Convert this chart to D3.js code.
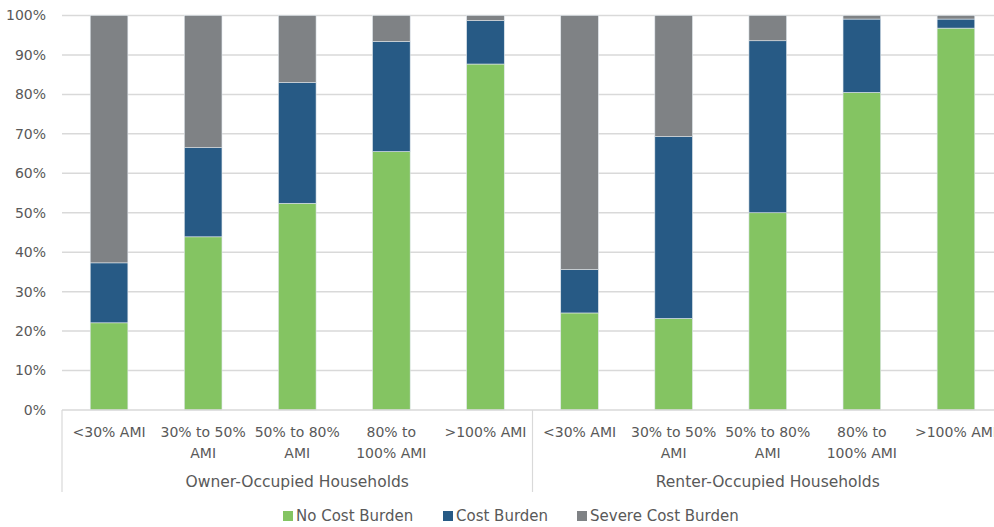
<!DOCTYPE html>
<html>
<head>
<meta charset="utf-8">
<script src="https://cdn.jsdelivr.net/npm/d3@7"></script>
<style>
  body { margin: 0; background: #fff; }
  text { font-family: "DejaVu Sans", sans-serif; fill: #595959; }
</style>
</head>
<body>
<svg id="chart" width="994" height="527"></svg>
<script>
// chart data
const groups = ["Owner-Occupied Households", "Renter-Occupied Households"];
const categories = ["<30% AMI", "30% to 50%\nAMI", "50% to 80%\nAMI", "80% to\n100% AMI", ">100% AMI"];
const seriesNames = ["No Cost Burden", "Cost Burden", "Severe Cost Burden"];
const colors = ["#84c462", "#275a85", "#7f8285"];

const noBurden = [22.1, 43.9, 52.4, 65.5, 87.7, 24.6, 23.2, 50.0, 80.5, 96.8];
const burden   = [15.2, 22.6, 30.6, 27.9, 11.0, 11.0, 46.1, 43.6, 18.6, 2.3];
const severe   = [62.7, 33.5, 17.0, 6.6, 1.3, 64.4, 30.7, 6.4, 0.9, 0.9];

const yTicks = [0, 10, 20, 30, 40, 50, 60, 70, 80, 90, 100];

const svg = d3.select("#chart");
const margin = {left: 62, top: 15.5, bottom: 410};

const rows = [];
groups.forEach((g, gi) => categories.forEach((c, ci) => {
  const i = gi * categories.length + ci;
  rows.push({key: i, group: g, cat: c, v0: noBurden[i], v1: burden[i], v2: severe[i]});
}));

const x = d3.scaleBand()
  .domain(rows.map(d => d.key))
  .range([margin.left, margin.left + 941])
  .paddingInner(0.6)
  .paddingOuter(0.3);

const y = d3.scaleLinear().domain([0, 100]).range([margin.bottom, margin.top]);

// gridlines
svg.append("g")
  .selectAll("line")
  .data(yTicks.filter(t => t > 0))
  .enter().append("line")
  .attr("x1", margin.left).attr("x2", 994)
  .attr("y1", d => y(d)).attr("y2", d => y(d))
  .attr("stroke", "#d9d9d9").attr("stroke-width", 1.5);

// y tick labels
svg.append("g")
  .selectAll("text")
  .data(yTicks)
  .enter().append("text")
  .attr("x", 46)
  .attr("y", d => y(d))
  .attr("dy", "0.35em")
  .attr("text-anchor", "end")
  .style("font-size", "14px")
  .text(d => d + "%");

// stacked bars
const stack = d3.stack().keys(["v0", "v1", "v2"]);
const layers = stack(rows);

svg.append("g")
  .selectAll("g")
  .data(layers)
  .enter().append("g")
  .attr("fill", (d, i) => colors[i])
  .selectAll("rect")
  .data(d => d)
  .enter().append("rect")
  .attr("x", d => x(d.data.key))
  .attr("width", x.bandwidth())
  .attr("y", d => y(d[1]))
  .attr("height", d => y(d[0]) - y(d[1]))
  .attr("stroke", "#dfe6ec")
  .attr("stroke-width", 0.6);

// x axis line
svg.append("line")
  .attr("x1", margin.left).attr("x2", 994)
  .attr("y1", y(0)).attr("y2", y(0))
  .attr("stroke", "#d9d9d9").attr("stroke-width", 1.5);

// group separators
const step = x.step();
const sepX = [margin.left, margin.left + step * categories.length];
svg.append("g")
  .selectAll("line")
  .data(sepX)
  .enter().append("line")
  .attr("x1", d => d).attr("x2", d => d)
  .attr("y1", y(0)).attr("y2", 492)
  .attr("stroke", "#d9d9d9").attr("stroke-width", 1.2);

// category labels
const catLabels = svg.append("g")
  .selectAll("text")
  .data(rows)
  .enter().append("text")
  .attr("x", d => x(d.key) + x.bandwidth() / 2)
  .attr("y", 437)
  .attr("text-anchor", "middle")
  .style("font-size", "14px");

catLabels.each(function (d) {
  const t = d3.select(this);
  d.cat.split("\n").forEach((line, li) => {
    t.append("tspan")
      .attr("x", x(d.key) + x.bandwidth() / 2)
      .attr("dy", li === 0 ? 0 : 20.5)
      .text(line);
  });
});

// group labels
svg.append("g")
  .selectAll("text")
  .data(groups)
  .enter().append("text")
  .attr("x", (d, i) => sepX[0] + step * categories.length * (i + 0.5))
  .attr("y", 487)
  .attr("text-anchor", "middle")
  .style("font-size", "15.5px")
  .text(d => d);

// legend
const legendX = [283, 443, 577];
const legend = svg.append("g")
  .selectAll("g")
  .data(seriesNames)
  .enter().append("g")
  .attr("transform", (d, i) => `translate(${legendX[i]},516)`);

legend.append("rect")
  .attr("x", 0).attr("y", -5)
  .attr("width", 10).attr("height", 10)
  .attr("fill", (d, i) => colors[i]);

legend.append("text")
  .attr("x", 13)
  .attr("dy", "0.35em")
  .style("font-size", "15px")
  .text(d => d);
</script>
</body>
</html>
